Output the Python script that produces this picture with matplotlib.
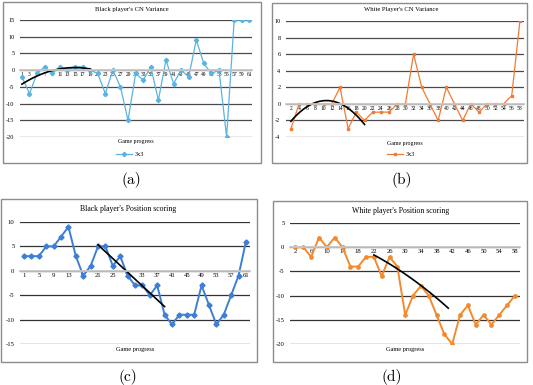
import numpy as np
import matplotlib.pyplot as plt
from matplotlib.patches import Rectangle

plt.rcParams['font.family'] = 'Liberation Serif'
plt.rcParams['axes.unicode_minus'] = False

# (a) black player's CN variance, every other move
moves_black = list(range(1, 62, 2))
cn_black = [-2, -7, -1, 1, -1, 1, 0, 1, 1, 0, -1, -7, 0, -5, -15, -1, -3, 1, -9, 3,
            -4, 0, -2, 9, 2, -1, 0, -20, 15, 15, 15]

# (b) white player's CN variance
moves_white = list(range(2, 59, 2))
cn_white = [-3, 0, 0, 0, 0, 0, 2, -3, -1, -2, -1, -1, -1, 0, 0, 6, 2, 0, -2, 2,
            0, -2, 0, -1, 0, 0, 0, 1, 10]

# (c) black player's position scoring
pos_black = [3, 3, 3, 5, 5, 7, 9, 3, -1, 1, 5, 5, 1, 3, -1, -3, -3, -5, -3, -9,
             -11, -9, -9, -9, -3, -7, -11, -9, -5, -1, 6]

# (d) white player's position scoring
pos_white = [0, 0, -2, 2, 0, 2, 0, -4, -4, -2, -2, -6, -2, -4, -14, -10, -8, -10, -14, -18,
             -20, -14, -12, -16, -14, -16, -14, -12, -10]

# hand drawn trend curve in (d)
trend_d_x = [22, 34, 41]
trend_d_y = [-1.6, -7.9, -12.6]

W, H = 533, 385
fig = plt.figure(figsize=(W / 100, H / 100), dpi=100)


def px_axes(l, t, r, b):
    return fig.add_axes([l / W, 1 - b / H, (r - l) / W, (b - t) / H])


def frame(l, t, r, b):
    fig.add_artist(Rectangle((l / W, 1 - b / H), (r - l) / W, (b - t) / H,
                             transform=fig.transFigure, fill=False,
                             ec='#8c8c8c', lw=1.0))


def style(ax, yticks, xticks, grid_color):
    ax.set_yticks(yticks)
    ax.set_ylim(yticks[0], yticks[-1])
    ax.set_xticks(xticks)
    ax.yaxis.grid(True, color=grid_color, lw=0.9)
    ax.set_axisbelow(True)
    for s in ['top', 'right', 'left']:
        ax.spines[s].set_visible(False)
    ax.spines['bottom'].set_position(('data', 0))
    ax.spines['bottom'].set_color('#c8c8c8')
    ax.spines['bottom'].set_linewidth(1.3)
    ax.tick_params(axis='x', length=0, pad=1.5, labelsize=4)
    ax.tick_params(axis='y', length=0, pad=4, labelsize=4.5)


def text(x, y, s, **kw):
    fig.text(x / W, 1 - y / H, s, ha='center', va='center', **kw)


# ---- (a)
frame(3, 2, 261, 163)
ax = px_axes(20, 20, 252, 137)
ax.plot(moves_black, cn_black, color='#5ab4e2', lw=0.9, marker='D', ms=2.2, label='3x3')
c = np.polyfit(moves_black[:10], cn_black[:10], 2)
xs = np.linspace(moves_black[0], moves_black[9], 50)
ax.plot(xs, np.polyval(c, xs), color='black', lw=1.2)
ax.set_xlim(0.5, 61.7)
style(ax, list(range(-20, 16, 5)), moves_black, '#4a4a4a')
ax.legend(loc='center', bbox_to_anchor=(130 / W, 1 - 154 / H), bbox_transform=fig.transFigure,
          frameon=False, fontsize=4.5, handlelength=2.5, handletextpad=0.4)
text(132, 10, "Black player's CN Variance", fontsize=4.8)
text(136, 141, 'Game progress', fontsize=4.2)
text(131, 180, '(a)', fontsize=11, family='cmr10')

# ---- (b)
frame(272, 3, 527, 163)
ax = px_axes(286, 21, 524, 137)
ax.plot(moves_white, cn_white, color='#f47a32', lw=0.9, marker='s', ms=2.0, label='3x3')
c = np.polyfit(moves_white[:10], cn_white[:10], 2)
xs = np.linspace(moves_white[0], moves_white[9], 50)
ax.plot(xs, np.polyval(c, xs), color='black', lw=1.2)
ax.set_xlim(0.8, 59.0)
style(ax, list(range(-4, 11, 2)), moves_white, '#4a4a4a')
ax.legend(loc='center', bbox_to_anchor=(401 / W, 1 - 154 / H), bbox_transform=fig.transFigure,
          frameon=False, fontsize=4.5, handlelength=2.5, handletextpad=0.4)
text(401, 10, "White Player's CN Variance", fontsize=4.8)
text(405, 143, 'Game progress', fontsize=4.2)
text(402, 180, '(b)', fontsize=11, family='cmr10')

# ---- (c)
frame(1, 199, 257, 362)
ax = px_axes(20, 222, 250, 344)
ax.plot(moves_black, pos_black, color='#3d7fd6', lw=1.4, marker='D', ms=2.6)
c = np.polyfit(moves_black[10:20], pos_black[10:20], 1)
xs = np.array([moves_black[10], moves_black[19]])
ax.plot(xs, np.polyval(c, xs), color='black', lw=1.2)
ax.set_xlim(-0.1, 62.1)
style(ax, list(range(-15, 11, 5)), moves_black[::2], '#333333')
ax.tick_params(axis='x', labelsize=4.8)
ax.tick_params(axis='y', labelsize=4.8)
text(128, 209, "Black player's Position scoring", fontsize=5.6)
text(135, 350, 'Game progress', fontsize=4.6)
text(128, 377, '(c)', fontsize=11, family='cmr10')

# ---- (d)
frame(273, 201, 527, 362)
ax = px_axes(290, 223, 520, 344)
ax.plot(moves_white, pos_white, color='#f28a2e', lw=1.4, marker='o', ms=2.4)
c = np.polyfit(trend_d_x, trend_d_y, 2)
xs = np.linspace(trend_d_x[0], trend_d_x[-1], 50)
ax.plot(xs, np.polyval(c, xs), color='black', lw=1.2)
ax.set_xlim(0.6, 59.3)
style(ax, list(range(-20, 6, 5)), moves_white[::2], '#333333')
ax.tick_params(axis='x', labelsize=4.8)
ax.tick_params(axis='y', labelsize=4.8)
text(401, 211, "White player's Position scoring", fontsize=5.6)
text(405, 350, 'Game progress', fontsize=4.6)
text(392, 377, '(d)', fontsize=11, family='cmr10')

fig.savefig('out.png', dpi=100)
